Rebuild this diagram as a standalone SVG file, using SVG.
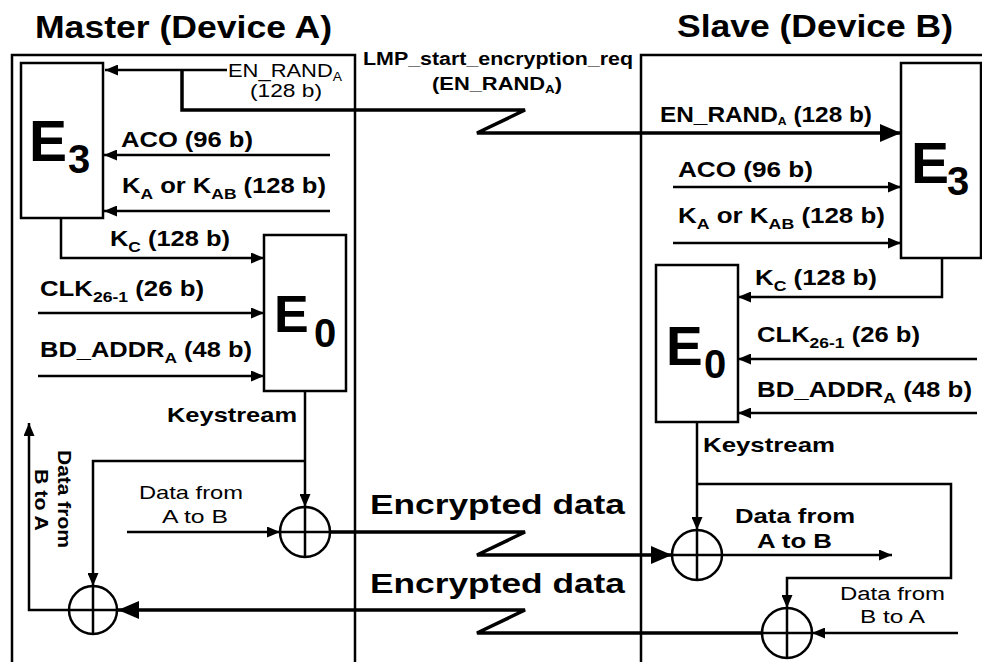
<svg xmlns="http://www.w3.org/2000/svg" width="982" height="662" viewBox="0 0 982 662">
<style>
.t{font-family:"Liberation Sans",Arial,sans-serif;fill:#000}
.b{font-weight:bold}
.box{fill:#fff;stroke:#000;stroke-width:2.5}
.fr{fill:none;stroke:#000;stroke-width:2.5}
.ln{fill:none;stroke:#000;stroke-width:2.5}
.thk{fill:none;stroke:#000;stroke-width:3.5}
.xor{fill:#fff;stroke:#000;stroke-width:2.5}
</style>
<defs>
<marker id="s" markerUnits="userSpaceOnUse" markerWidth="13" markerHeight="11" refX="13" refY="5.5" orient="auto"><path d="M0,0 L13,5.5 L0,11 z" fill="#000"/></marker>
<marker id="L" markerUnits="userSpaceOnUse" markerWidth="21" markerHeight="18" refX="21" refY="9" orient="auto"><path d="M0,0 L21,9 L0,18 z" fill="#000"/></marker>
</defs>
<rect width="982" height="662" fill="#fff"/>

<g id="master-frame">
<path class="fr" d="M12,662 V55 H355 V662"/>
<text class="t b" x="35" y="38" font-size="32" textLength="297" lengthAdjust="spacingAndGlyphs">Master (Device A)</text>
</g>
<g id="slave-frame">
<path class="fr" d="M641,662 V55 H982"/>
<text class="t b" x="677" y="37" font-size="32" textLength="276" lengthAdjust="spacingAndGlyphs">Slave (Device B)</text>
</g>

<g id="connectors">
<path class="ln" d="M227,70 H105" marker-end="url(#s)"/>
<path class="thk" d="M182,70 V110 H525 L477,133 H901" marker-end="url(#L)"/>
<path class="ln" d="M330,155 H104" marker-end="url(#s)"/>
<path class="ln" d="M330,211 H104" marker-end="url(#s)"/>
<path class="ln" d="M61,218 V258 H264" marker-end="url(#s)"/>
<path class="ln" d="M38,313 H264" marker-end="url(#s)"/>
<path class="ln" d="M38,376 H264" marker-end="url(#s)"/>
<path class="ln" d="M305,391 V507" marker-end="url(#s)"/>
<path class="ln" d="M305,461 H93 V586" marker-end="url(#s)"/>
<path class="ln" d="M127,532 H280" marker-end="url(#s)"/>
<path class="thk" d="M330,532 H525 L477,555 H672" marker-end="url(#L)"/>
<path class="thk" d="M762,633 H477 L525,610 H118" marker-end="url(#L)"/>
<path class="ln" d="M69,610 H29 V423" marker-end="url(#s)"/>
<path class="ln" d="M673,187 H901" marker-end="url(#s)"/>
<path class="ln" d="M673,243 H901" marker-end="url(#s)"/>
<path class="ln" d="M942,258 V297 H738" marker-end="url(#s)"/>
<path class="ln" d="M977,359 H738" marker-end="url(#s)"/>
<path class="ln" d="M977,413 H738" marker-end="url(#s)"/>
<path class="ln" d="M697,422 V530" marker-end="url(#s)"/>
<path class="ln" d="M697,484 H951 V578 H787 V608" marker-end="url(#s)"/>
<path class="ln" d="M722,555 H892" marker-end="url(#s)"/>
<path class="ln" d="M958,633 H812" marker-end="url(#s)"/>
</g>

<g id="master-E3">
<rect class="box" x="21" y="63" width="82" height="155"/>
<text class="t b" x="29" y="161" font-size="57">E</text>
<text class="t b" x="68" y="173" font-size="40">3</text>
</g>
<g id="master-E0">
<rect class="box" x="264" y="235" width="82" height="156"/>
<text class="t b" x="274" y="332" font-size="52">E</text>
<text class="t b" x="314" y="347" font-size="40">0</text>
</g>
<g id="slave-E3">
<rect class="box" x="901" y="63" width="80" height="195"/>
<text class="t b" x="911" y="183" font-size="57">E</text>
<text class="t b" x="947" y="195" font-size="40">3</text>
</g>
<g id="slave-E0">
<rect class="box" x="656" y="265" width="82" height="157"/>
<text class="t b" x="666" y="365" font-size="55">E</text>
<text class="t b" x="704" y="378" font-size="40">0</text>
</g>

<g id="master-xor1"><circle class="xor" cx="305" cy="532" r="25"/><path class="ln" d="M280,532 H330 M305,507 V557"/></g>
<g id="master-xor2"><circle class="xor" cx="93" cy="610" r="24"/><path class="ln" d="M69,610 H117 M93,586 V634"/></g>
<g id="slave-xor1"><circle class="xor" cx="697" cy="555" r="25"/><path class="ln" d="M672,555 H722 M697,530 V580"/></g>
<g id="slave-xor2"><circle class="xor" cx="787" cy="633" r="25"/><path class="ln" d="M762,633 H812 M787,608 V658"/></g>

<g id="labels">
<text class="t b" x="363" y="65" font-size="18" textLength="270" lengthAdjust="spacingAndGlyphs">LMP_start_encryption_req</text>
<text class="t b" x="432" y="90" font-size="18" textLength="130" lengthAdjust="spacingAndGlyphs">(EN_RAND<tspan font-size="11" dy="3">A</tspan><tspan dy="-3">)</tspan></text>
<text class="t" x="228" y="77" font-size="19" textLength="114" lengthAdjust="spacingAndGlyphs">EN_RAND<tspan font-size="12" dy="4">A</tspan></text>
<text class="t" x="250" y="97" font-size="19" textLength="72" lengthAdjust="spacingAndGlyphs">(128 b)</text>
<text class="t b" x="121" y="147" font-size="22" textLength="132" lengthAdjust="spacingAndGlyphs">ACO (96 b)</text>
<text class="t b" x="122" y="193" font-size="22" textLength="204" lengthAdjust="spacingAndGlyphs">K<tspan font-size="15" dy="6">A</tspan><tspan dy="-6"> or K</tspan><tspan font-size="15" dy="6">AB</tspan><tspan dy="-6"> (128 b)</tspan></text>
<text class="t b" x="110" y="246" font-size="22" textLength="120" lengthAdjust="spacingAndGlyphs">K<tspan font-size="15" dy="6">C</tspan><tspan dy="-6"> (128 b)</tspan></text>
<text class="t b" x="40" y="296" font-size="22" textLength="164" lengthAdjust="spacingAndGlyphs">CLK<tspan font-size="15" dy="6">26-1</tspan><tspan dy="-6"> (26 b)</tspan></text>
<text class="t b" x="40" y="357" font-size="22" textLength="212" lengthAdjust="spacingAndGlyphs">BD_ADDR<tspan font-size="15" dy="6">A</tspan><tspan dy="-6"> (48 b)</tspan></text>
<text class="t b" x="167" y="422" font-size="21" textLength="130" lengthAdjust="spacingAndGlyphs">Keystream</text>
<text class="t" x="139" y="499" font-size="19" textLength="104" lengthAdjust="spacingAndGlyphs">Data from</text>
<text class="t" x="162" y="523" font-size="19" textLength="66" lengthAdjust="spacingAndGlyphs">A to B</text>
<g transform="translate(58,450) rotate(90)">
<text class="t b" x="0" y="0" font-size="19" textLength="98" lengthAdjust="spacingAndGlyphs">Data from</text>
<text class="t b" x="19" y="23" font-size="19" textLength="62" lengthAdjust="spacingAndGlyphs">B to A</text>
</g>
<text class="t b" x="370" y="514" font-size="27" textLength="255" lengthAdjust="spacingAndGlyphs">Encrypted data</text>
<text class="t b" x="370" y="593" font-size="27" textLength="255" lengthAdjust="spacingAndGlyphs">Encrypted data</text>
<text class="t b" x="660" y="122" font-size="22" textLength="212" lengthAdjust="spacingAndGlyphs">EN_RAND<tspan font-size="11" dy="3">A</tspan><tspan dy="-3"> (128 b)</tspan></text>
<text class="t b" x="678" y="177" font-size="22" textLength="135" lengthAdjust="spacingAndGlyphs">ACO (96 b)</text>
<text class="t b" x="678" y="223" font-size="22" textLength="207" lengthAdjust="spacingAndGlyphs">K<tspan font-size="15" dy="6">A</tspan><tspan dy="-6"> or K</tspan><tspan font-size="15" dy="6">AB</tspan><tspan dy="-6"> (128 b)</tspan></text>
<text class="t b" x="755" y="285" font-size="22" textLength="122" lengthAdjust="spacingAndGlyphs">K<tspan font-size="15" dy="6">C</tspan><tspan dy="-6"> (128 b)</tspan></text>
<text class="t b" x="757" y="342" font-size="22" textLength="163" lengthAdjust="spacingAndGlyphs">CLK<tspan font-size="15" dy="6">26-1</tspan><tspan dy="-6"> (26 b)</tspan></text>
<text class="t b" x="757" y="397" font-size="22" textLength="215" lengthAdjust="spacingAndGlyphs">BD_ADDR<tspan font-size="15" dy="6">A</tspan><tspan dy="-6"> (48 b)</tspan></text>
<text class="t b" x="703" y="452" font-size="21" textLength="132" lengthAdjust="spacingAndGlyphs">Keystream</text>
<text class="t b" x="735" y="523" font-size="21" textLength="120" lengthAdjust="spacingAndGlyphs">Data from</text>
<text class="t b" x="757" y="548" font-size="21" textLength="75" lengthAdjust="spacingAndGlyphs">A to B</text>
<text class="t" x="840" y="600" font-size="18" textLength="105" lengthAdjust="spacingAndGlyphs">Data from</text>
<text class="t" x="860" y="623" font-size="18" textLength="65" lengthAdjust="spacingAndGlyphs">B to A</text>
</g>
</svg>
